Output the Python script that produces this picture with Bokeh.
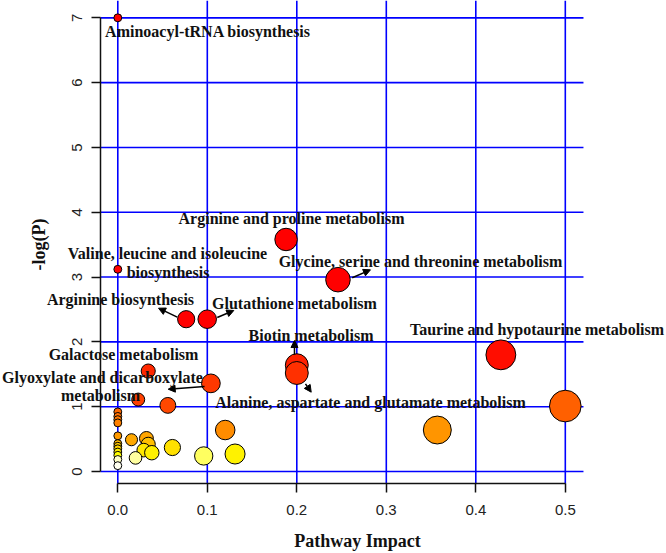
from bokeh.plotting import figure
from bokeh.models import ColumnDataSource, FixedTicker, Label, Arrow, NormalHead, NumeralTickFormatter
from bokeh.embed import file_html
from bokeh.resources import INLINE
import math

# ---- data ----
impact = [0.0, 0.188, 0.0, 0.246, 0.0764, 0.0999, 0.428, 0.2, 0.034, 0.2,
          0.104, 0.0228, 0.0559, 0.5, 0.0, 0.0, 0.0, 0.0, 0.357, 0.120,
          0.0, 0.032, 0.0153, 0.0, 0.034, 0.0, 0.061, 0.0, 0.029, 0.0,
          0.038, 0.131, 0.0, 0.096, 0.0198, 0.0, 0.0]
neglogp = [7.0, 3.58, 3.12, 2.96, 2.35, 2.35, 1.80, 1.64, 1.55, 1.52,
           1.36, 1.11, 1.02, 1.01, 0.92, 0.85, 0.80, 0.75, 0.64, 0.64,
           0.55, 0.51, 0.49, 0.43, 0.42, 0.39, 0.37, 0.35, 0.33, 0.30,
           0.29, 0.27, 0.25, 0.24, 0.21, 0.185, 0.09]

x_ticks = [0.0, 0.1, 0.2, 0.3, 0.4, 0.5]
y_ticks = [0, 1, 2, 3, 4, 5, 6, 7]

# ---- styles ----
fill_colors = ["#FF0000", "#FF0000", "#FF0000", "#FF0000", "#FF0000", "#FF0000", "#FF0D00", "#FF2000", "#FF2800", "#FF3000",
               "#FF3800", "#FF4000", "#FF4800", "#FF6000", "#FF6800", "#FF7000", "#FF7800", "#FF8000", "#FF9500", "#FF8C00",
               "#FF9900", "#FFA500", "#FFA800", "#FFB800", "#FFC000", "#FFC800", "#FFE000", "#FFD500", "#FFE800", "#FFEE00",
               "#FFF000", "#FFF200", "#FFFF00", "#FFFF60", "#FFFFA0", "#FFFFC8", "#FFFFF0"]

# label layout (data units, text centres)
label_text = ["Aminoacyl-tRNA biosynthesis", "Arginine and proline metabolism",
              "Valine, leucine and isoleucine", "biosynthesis",
              "Glycine, serine and threonine metabolism", "Arginine biosynthesis",
              "Glutathione metabolism", "Biotin metabolism",
              "Taurine and hypotaurine metabolism", "Galactose metabolism",
              "Glyoxylate and dicarboxylate", "metabolism",
              "Alanine, aspartate and glutamate metabolism"]
label_x = [0.1008, 0.1941, 0.0555, 0.0561, 0.3382, 0.003, 0.1974, 0.2159, 0.4684, 0.0064, -0.0171, -0.0193, 0.2823]
label_y = [6.789, 3.904, 3.364, 3.071, 3.240, 2.654, 2.597, 2.098, 2.191, 1.805, 1.450, 1.173, 1.069]

arrow_x0 = [0.0664, 0.1111, 0.2619, 0.1974, 0.2097, 0.0969]
arrow_y0 = [2.381, 2.376, 2.989, 1.805, 1.353, 1.312]
arrow_x1 = [0.0455, 0.1296, 0.2823, 0.1974, 0.2161, 0.0563]
arrow_y1 = [2.520, 2.484, 3.112, 2.021, 1.224, 1.270]

# plotting region of the original chart (data units) and whole-canvas view
region_x = (-0.0193, 0.5203)
region_y = (-0.19, 7.2674)
view_x = (-0.13106, 0.61307)
view_y = (-1.2652, 7.2674)
xtitle_pos = (0.2678, -1.065)

# circle radii in x-units (as the R symbols() call does)
sq_max = math.sqrt(max(impact))
max_r = sq_max / 40.0
min_r = sq_max / 160.0
radii = [min_r + (max_r - min_r) * math.sqrt(v) / sq_max for v in impact]

source = ColumnDataSource(dict(x=impact, y=neglogp, r=radii, c=fill_colors))

p = figure(width=666, height=553, output_backend="svg", toolbar_location=None,
           x_range=view_x, y_range=view_y,
           min_border_left=0, min_border_right=0, min_border_top=0, min_border_bottom=0)
p.background_fill_color = "white"
p.border_fill_color = "white"
p.outline_line_color = None
p.xgrid.visible = False
p.ygrid.visible = False

for ax in (p.xaxis[0], p.yaxis[0]):
    ax.axis_line_color = "#111111"
    ax.axis_line_width = 1.5
    ax.major_tick_line_color = "#111111"
    ax.major_tick_line_width = 1.5
    ax.major_tick_out = 9
    ax.major_tick_in = 0
    ax.minor_tick_line_color = None
    ax.major_label_text_font = "Liberation Sans"
    ax.major_label_text_font_size = "15px"
    ax.major_label_text_color = "#222222"
    ax.axis_label_text_font = "Liberation Serif"
    ax.axis_label_text_font_style = "bold"
    ax.axis_label_text_font_size = "18px"
    ax.axis_label_text_color = "#111111"

p.xaxis.ticker = FixedTicker(ticks=x_ticks)
p.yaxis.ticker = FixedTicker(ticks=y_ticks)
p.xaxis.formatter = NumeralTickFormatter(format="0.0")
p.xaxis.bounds = (x_ticks[0], x_ticks[-1])
p.yaxis.bounds = (y_ticks[0], y_ticks[-1])
p.xaxis.fixed_location = region_y[0]
p.yaxis.fixed_location = region_x[0]
p.yaxis.axis_label = "-log(P)"
p.yaxis.major_label_orientation = "vertical"
p.xaxis.major_label_standoff = 12
p.yaxis.major_label_standoff = 10
p.yaxis.axis_label_standoff = 20

# x-axis title (centred as in the original, slightly right of the region centre)
p.add_layout(Label(x=xtitle_pos[0], y=xtitle_pos[1], text="Pathway Impact",
                   text_align="center", text_baseline="middle",
                   text_font="Liberation Serif", text_font_style="bold",
                   text_font_size="18px", text_color="#111111"))

# blue grid over the original plotting region
p.segment(x0=x_ticks, y0=[region_y[0]] * len(x_ticks), x1=x_ticks, y1=[region_y[1]] * len(x_ticks),
          line_color="#0000FF", line_width=1.6)
p.segment(x0=[region_x[0]] * len(y_ticks), y0=y_ticks, x1=[region_x[1]] * len(y_ticks), y1=y_ticks,
          line_color="#0000FF", line_width=1.6)

p.circle(x="x", y="y", radius="r", radius_dimension="x", source=source,
         fill_color="c", line_color="black", line_width=1)

for tx, lx, ly in zip(label_text, label_x, label_y):
    p.add_layout(Label(x=lx, y=ly, text=tx, text_align="center", text_baseline="middle",
                       text_font="Liberation Serif", text_font_style="bold",
                       text_font_size="16px", text_color="#111111"))

for x0, y0, x1, y1 in zip(arrow_x0, arrow_y0, arrow_x1, arrow_y1):
    p.add_layout(Arrow(x_start=x0, y_start=y0, x_end=x1, y_end=y1, line_width=1.5,
                       line_color="black",
                       end=NormalHead(size=7, fill_color="black", line_color="black")))

open("out.html", "w").write(file_html(p, INLINE))
